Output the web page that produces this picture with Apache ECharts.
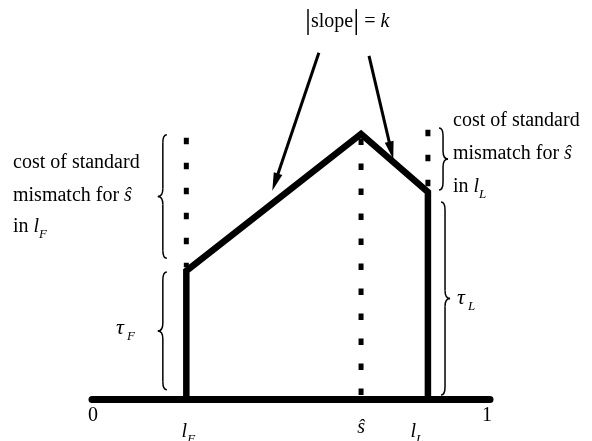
<!DOCTYPE html>
<html lang="en">
<head>
<meta charset="UTF-8" />
<title>Standard mismatch cost</title>
<script src="https://cdn.jsdelivr.net/npm/echarts@6.0.0/dist/echarts.min.js"></script>
<style>
    html, body { margin: 0; padding: 0; background: #fff; }
    #chart { width: 592px; height: 441px; }
</style>
</head>
<body>
<div id="chart"></div>
<script>
    // points on the unit interval
    const lF = 0.237, sHat = 0.676, lL = 0.844;

    // cost curve (vertical at lF, up to the peak at s-hat, down to lL)
    const costX = [lF, lF, sHat, lL, lL];
    const costY = [0, 0.321, 0.664, 0.519, 0];

    // dotted guides: [x, top, bottom]
    const guides = [[lF, 0.655, 0.330], [sHat, 0.653, 0.009], [lL, 0.675, 0.533]];

    // arrows: [x0, y0, x1, y1]
    const arrows = [[0.570, 0.868, 0.453, 0.522], [0.696, 0.860, 0.757, 0.601]];

    // braces: [x, top, bottom, side of the cusp]
    const braces = [[0.178, 0.662, 0.353, -1], [0.178, 0.318, 0.023, -1],
                    [0.882, 0.679, 0.524, 1], [0.887, 0.494, 0.010, 1]];

    const tickValues = [0, lF, sHat, lL, 1];
    const tickLabels = [[['0', 'r']], [['l', 'i'], ['F', 's']], [['ŝ', 'i']], [['l', 'i'], ['L', 's']], [['1', 'r']]];
    // label placement: [x shift, baseline]
    const tickPlace = [[1, 422], [2, 438], [0, 434], [-11, 438], [-3, 422]];

    const chart = echarts.init(document.getElementById('chart'));

    function renderArrow(params, api) {
        const a = api.coord([api.value(0), api.value(1)]);
        const b = api.coord([api.value(2), api.value(3)]);
        const dx = b[0] - a[0], dy = b[1] - a[1], len = Math.hypot(dx, dy);
        const ux = dx / len, uy = dy / len, hl = 18, hw = 4.5;
        const bx = b[0] - ux * hl, by = b[1] - uy * hl;
        return {
            type: 'group',
            children: [
                { type: 'line', shape: { x1: a[0], y1: a[1], x2: bx + ux * 3, y2: by + uy * 3 },
                  style: { stroke: '#000', lineWidth: 3 } },
                { type: 'polygon', shape: { points: [[b[0], b[1]], [bx - uy * hw, by + ux * hw], [bx + uy * hw, by - ux * hw]] },
                  style: { fill: '#000' } }
            ]
        };
    }

    function renderBrace(params, api) {
        const t = api.coord([api.value(0), api.value(1)]);
        const b = api.coord([api.value(0), api.value(2)]);
        const d = api.value(3);
        const s = t[0], y0 = t[1], y1 = b[1], ym = (y0 + y1) / 2;
        const r = Math.min(8, (y1 - y0) / 6);
        const tip = s - 4 * d, cusp = s + 5 * d;
        const st = { stroke: '#000', lineWidth: 1.5, fill: 'none' };
        return {
            type: 'group',
            children: [
                { type: 'bezierCurve', shape: { x1: tip, y1: y0, cpx1: s, cpy1: y0, x2: s, y2: y0 + r }, style: st },
                { type: 'line', shape: { x1: s, y1: y0 + r, x2: s, y2: ym - r }, style: st },
                { type: 'bezierCurve', shape: { x1: s, y1: ym - r, cpx1: s, cpy1: ym, x2: cusp, y2: ym }, style: st },
                { type: 'bezierCurve', shape: { x1: cusp, y1: ym, cpx1: s, cpy1: ym, x2: s, y2: ym + r }, style: st },
                { type: 'line', shape: { x1: s, y1: ym + r, x2: s, y2: y1 - r }, style: st },
                { type: 'bezierCurve', shape: { x1: s, y1: y1 - r, cpx1: s, cpy1: y1, x2: tip, y2: y1 }, style: st }
            ]
        };
    }

    const series = [{
        type: 'line',
        data: costX.map((x, i) => [x, costY[i]]),
        symbol: 'none',
        clip: false,
        z: 4,
        lineStyle: { color: '#000', width: 6.5, join: 'miter', cap: 'butt' }
    }];
    guides.forEach(g => series.push({
        type: 'line',
        data: [[g[0], g[1]], [g[0], g[2]]],
        symbol: 'none',
        clip: false,
        z: 3,
        lineStyle: { color: '#000', width: 5, type: [6.5, 18.5], cap: 'butt' }
    }));
    series.push({
        type: 'custom',
        data: arrows,
        encode: { x: [0, 2], y: [1, 3] },
        renderItem: renderArrow,
        clip: false,
        z: 5
    });
    series.push({
        type: 'custom',
        data: braces,
        encode: { x: 0, y: [1, 2] },
        renderItem: renderBrace,
        clip: false,
        z: 5
    });

    chart.setOption({
        animation: false,
        grid: { left: 92, right: 102, top: 0, bottom: 42 },
        xAxis: {
            type: 'value', min: 0, max: 1,
            axisLine: { show: true, lineStyle: { color: '#000', width: 7 } },
            axisTick: { show: false }, axisLabel: { show: false }, splitLine: { show: false }
        },
        yAxis: { type: 'value', min: 0, max: 1, show: false },
        series: series
    });

    // text, laid out piece by piece so subscripts sit below the baseline
    const ctx = document.createElement('canvas').getContext('2d');
    const FAMILY = '"Liberation Serif", "Times New Roman", serif';
    const KINDS = {
        r: { size: 20, italic: false, dy: 0 },
        i: { size: 20, italic: true, dy: 0 },
        t: { size: 22, italic: true, dy: 0 },
        s: { size: 13, italic: true, dy: 6 },
        b: { size: 30, italic: false, dy: 3 }
    };
    function measure(parts) {
        let w = 0;
        parts.forEach(([str, k]) => {
            const K = KINDS[k];
            ctx.font = (K.italic ? 'italic ' : '') + K.size + 'px ' + FAMILY;
            w += ctx.measureText(str).width;
        });
        return w;
    }
    function run(x, base, parts) {
        const out = [];
        parts.forEach(([str, k]) => {
            const K = KINDS[k];
            out.push({
                type: 'text', x: x, y: base + K.dy - K.size * 0.32, silent: true,
                style: {
                    text: str, fill: '#000', fontSize: K.size, fontFamily: FAMILY,
                    fontStyle: K.italic ? 'italic' : 'normal', verticalAlign: 'middle', align: 'left'
                }
            });
            ctx.font = (K.italic ? 'italic ' : '') + K.size + 'px ' + FAMILY;
            x += ctx.measureText(str).width;
        });
        return out;
    }

    let texts = [];
    tickValues.forEach((v, i) => {
        const px = chart.convertToPixel({ gridIndex: 0 }, [v, 0])[0];
        const w = measure(tickLabels[i]);
        texts = texts.concat(run(px - w / 2 + tickPlace[i][0], tickPlace[i][1], tickLabels[i]));
    });
    texts = texts.concat(
        run(305, 28, [['|', 'b'], ['slope', 'r'], ['|', 'b'], [' = ', 'r'], ['k', 'i']]),
        run(13, 169, [['cost of standard', 'r']]),
        run(13, 202, [['mismatch for ', 'r'], ['ŝ', 'i']]),
        run(13, 233, [['in ', 'r'], ['l', 'i'], ['F', 's']]),
        run(453, 127, [['cost of standard', 'r']]),
        run(453, 160, [['mismatch for ', 'r'], ['ŝ', 'i']]),
        run(453, 193, [['in ', 'r'], ['l', 'i'], ['L', 's']]),
        run(116, 335, [['τ', 't'], [' F', 's']]),
        run(457, 305, [['τ', 't'], [' L', 's']])
    );
    chart.setOption({ graphic: texts });
</script>
</body>
</html>
